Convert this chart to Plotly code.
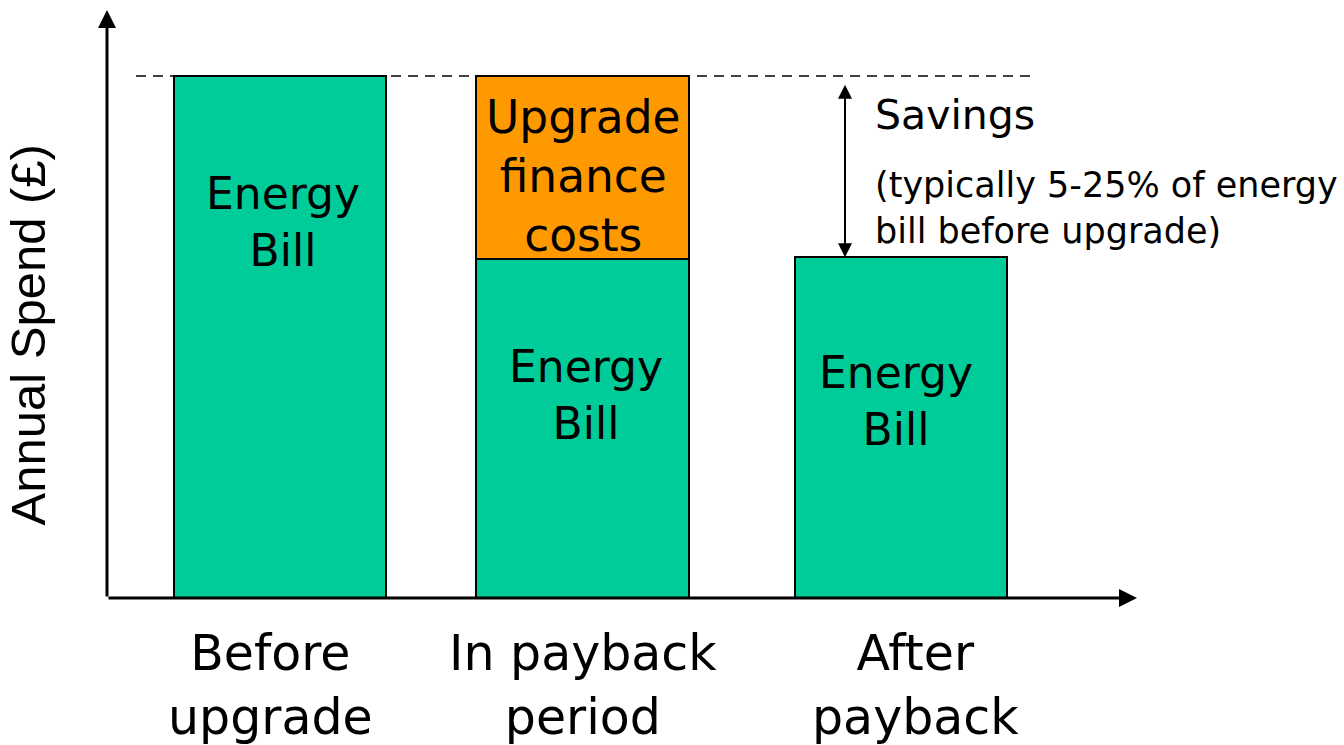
import plotly.graph_objects as go

# ---- data ----
categories = ["Before upgrade", "In payback period", "After payback"]
tick_labels = ["Before<br>upgrade", "In payback<br>period", "After<br>payback"]
energy_bill = [100, 65, 65.3]
finance_costs = [0, 35, 0]
bar_texts_energy = ["Energy<br>Bill", "Energy<br>Bill", "Energy<br>Bill"]
finance_text = "Upgrade<br>finance<br>costs"
savings_title = "Savings"
savings_note = "(typically 5-25% of energy<br>bill before upgrade)"
y_title = "Annual Spend (£)"

GREEN = "#00CC99"
ORANGE = "#FF9900"
FONT = "DejaVu Sans"

xs = [0, 1, 2]
BAR_W = 0.683
PX_PER_UNIT = 310.5
bar_offsets = [-BAR_W / 2, -BAR_W / 2 - 8 / PX_PER_UNIT, -BAR_W / 2]

fig = go.Figure()
fig.add_trace(go.Bar(x=xs, y=energy_bill, width=BAR_W, offset=bar_offsets,
                     marker=dict(color=GREEN, line=dict(color="black", width=2)),
                     hoverinfo="skip", showlegend=False))
fig.add_trace(go.Bar(x=xs, y=finance_costs, width=BAR_W, offset=bar_offsets,
                     marker=dict(color=ORANGE, line=dict(color="black", width=2)),
                     hoverinfo="skip", showlegend=False))

ann = []
# texts inside bars
e_pos = [(0, 72, 3), (1, 38.8, -5), (2, 37.7, -5)]
for (x, y, sh), t in zip(e_pos, bar_texts_energy):
    ann.append(dict(x=x, y=y, xref="x", yref="y", text=t, showarrow=False,
                    xshift=sh, font=dict(family=FONT, size=44, color="black")))
ann.append(dict(x=1, y=80.8, xref="x", yref="y", text=finance_text, showarrow=False,
                xshift=-7, font=dict(family=FONT, size=45.5, color="black")))

# category labels
lab_shift = [-9, -8, 14]
for x, t, sh in zip(xs, tick_labels, lab_shift):
    ann.append(dict(x=x, y=-0.15, xref="x", yref="paper", text=t, showarrow=False,
                    xshift=sh, yanchor="middle",
                    font=dict(family=FONT, size=49, color="black")))

# savings texts
sav_x = (873 - 107) / 1031
ann.append(dict(x=sav_x, y=92.5, xref="paper", yref="y", text=savings_title,
                showarrow=False, xanchor="left", yanchor="middle",
                font=dict(family=FONT, size=41, color="black")))
ann.append(dict(x=sav_x, y=74.7, xref="paper", yref="y", text=savings_note,
                showarrow=False, xanchor="left", yanchor="middle", align="left",
                font=dict(family=FONT, size=35, color="black")))

# y title
ann.append(dict(x=-0.0766, y=50.3, xref="paper", yref="y", text=y_title,
                showarrow=False, textangle=-90, xanchor="center", yanchor="middle",
                font=dict(family="Liberation Sans", size=49, color="black")))

# axes arrows
ann.append(dict(x=0, y=(598 - 10) / 583, xref="paper", yref="paper",
                ax=0, ay=588, axref="pixel", ayref="pixel", text="",
                showarrow=True, arrowhead=2, arrowsize=1.2, arrowwidth=3,
                arrowcolor="black"))
ann.append(dict(x=(1137 - 107) / 1031, y=0, xref="paper", yref="paper",
                ax=-1030, ay=0, axref="pixel", ayref="pixel", text="",
                showarrow=True, arrowhead=2, arrowsize=1.2, arrowwidth=3,
                arrowcolor="black"))

# savings double arrow
sx = (845 - 107) / 1031
ann.append(dict(x=sx, y=65.3, xref="paper", yref="y",
                ax=0, ay=-174, axref="pixel", ayref="pixel", text="",
                showarrow=True, arrowhead=2, arrowsize=1.4, arrowwidth=2,
                startarrowhead=2, startarrowsize=1.4, arrowside="end+start",
                arrowcolor="black"))

fig.update_layout(
    width=1344, height=745,
    margin=dict(l=107, r=206, t=15, b=147),
    paper_bgcolor="white", plot_bgcolor="white",
    barmode="stack",
    xaxis=dict(range=[-0.557, 2.763], showgrid=False, zeroline=False,
               showticklabels=False, showline=False, fixedrange=True),
    yaxis=dict(range=[0, 111.7], showgrid=False, zeroline=False,
               showticklabels=False, showline=False, fixedrange=True),
    annotations=ann,
    shapes=[dict(type="line", xref="paper", yref="y",
                 x0=(136 - 107) / 1031, x1=(1036 - 107) / 1031, y0=100, y1=100,
                 line=dict(color="black", width=1.5, dash="10px,7px"),
                 layer="below")],
)

fig.write_html("out.html",
               config={"displayModeBar": False, "staticPlot": True},
               post_script="document.body.style.margin='0';document.body.style.overflow='hidden';")
